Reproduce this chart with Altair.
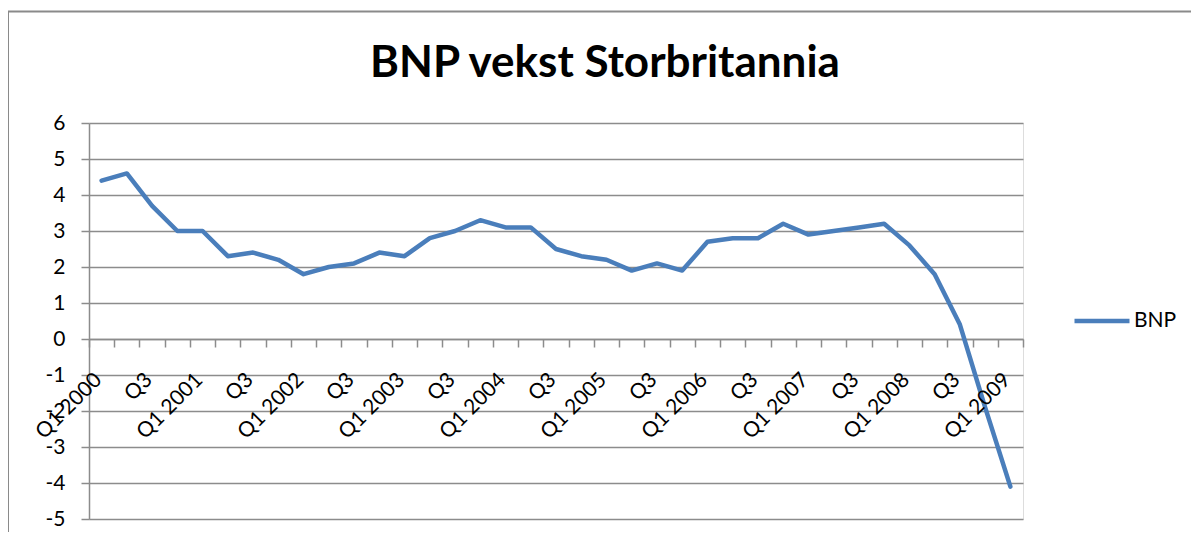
import altair as alt
import pandas as pd

quarters = []
for yr in range(2000, 2010):
    for q in range(1, 5):
        if yr == 2009 and q > 1:
            break
        quarters.append(f"Q{q} {yr}")

bnp = [4.4, 4.6, 3.7, 3.0, 3.0, 2.3, 2.4, 2.2, 1.8, 2.0, 2.1, 2.4,
       2.3, 2.8, 3.0, 3.3, 3.1, 3.1, 2.5, 2.3, 2.2, 1.9, 2.1, 1.9,
       2.7, 2.8, 2.8, 3.2, 2.9, 3.0, 3.1, 3.2, 2.6, 1.8, 0.4, -1.9, -4.1]
tick_labels = [q if q.startswith("Q1") else ("Q3" if q.startswith("Q3") else "")
               for q in quarters]
series_name = "BNP"
y_ticks = list(range(-5, 7))

df = pd.DataFrame({"kvartal": quarters, "verdi": bnp, "serie": series_name,
                   "etikett": tick_labels})

FONT = "Lato"
GRID = "#8c8c8c"
W, H = 934, 396

x_enc = alt.X("kvartal:N", sort=None, bandPosition=0.5,
              scale=alt.Scale(type="band", paddingInner=0, paddingOuter=0),
              axis=alt.Axis(
                  title=None, labels=False,
                  tickBand="extent", tickSize=8, tickColor=GRID, tickWidth=1.5,
                  domainColor=GRID, domainWidth=1.5,
                  grid=False, offset=-180, orient="bottom"))
y_scale = alt.Scale(domain=[-5, 6], nice=False, zero=False)

line = alt.Chart(df).mark_line(
    strokeWidth=4.5, strokeCap="round", strokeJoin="round"
).encode(
    x=x_enc,
    y=alt.Y("verdi:Q", scale=y_scale,
            axis=alt.Axis(
                title=None, values=y_ticks, labelExpr="'' + datum.value",
                labelFont=FONT, labelFontSize=21, labelColor="black",
                labelPadding=16, tickSize=8, tickColor=GRID, tickWidth=1.5,
                domainColor=GRID, domainWidth=1.5,
                gridColor=GRID, gridWidth=1.5)),
    color=alt.Color("serie:N",
                    scale=alt.Scale(range=["#4a7ebb"]),
                    legend=alt.Legend(
                        title=None, orient="none", legendX=983, legendY=168,
                        symbolType="stroke", symbolSize=3025,
                        symbolStrokeWidth=4.5, labelFont=FONT,
                        labelFontSize=21, labelColor="black", labelOffset=2,
                        padding=0)),
)

# category labels below the zero line, rotated like the original
xlabels = alt.Chart(df).mark_text(
    angle=315, align="right", baseline="middle", font=FONT, fontSize=21,
    color="black", xOffset=-3
).encode(
    x=alt.X("kvartal:N", sort=None, bandPosition=0.5),
    y=alt.value(254),
    text="etikett:N",
)

border_data = alt.Data(values=[{"a": 1}])
top_border = alt.Chart(border_data).mark_rule(color="#8a8a8a", strokeWidth=2).encode(
    x=alt.value(-82), x2=alt.value(1120), y=alt.value(-111.5))
left_border = alt.Chart(border_data).mark_rule(color="#8a8a8a", strokeWidth=2).encode(
    x=alt.value(-81), y=alt.value(-112), y2=alt.value(430))

chart = alt.layer(top_border, left_border, line, xlabels).properties(
    width=W, height=H,
    title=alt.Title("BNP vekst Storbritannia", font=FONT, fontSize=44,
                    fontWeight="bold", color="black", anchor="middle",
                    dx=49, offset=-111, baseline="alphabetic"),
    autosize=alt.AutoSizeParams(type="none"),
    padding={"left": 81, "top": 115, "right": 168, "bottom": 13},
).configure_view(stroke=None).configure(background="white")

chart.save("out.html", embed_options={"renderer": "svg", "actions": False})
